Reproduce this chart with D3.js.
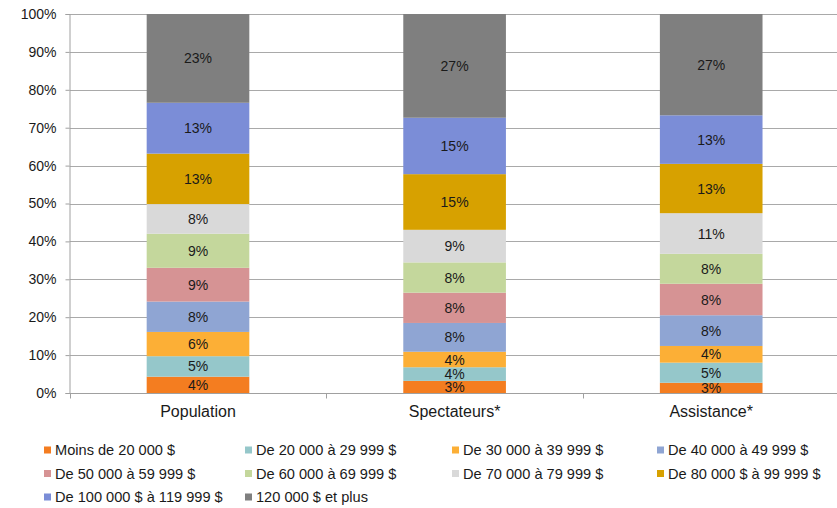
<!DOCTYPE html>
<html lang="fr">
<head>
<meta charset="utf-8">
<script src="https://cdn.jsdelivr.net/npm/d3@7"></script>
<style>
  html, body { margin: 0; padding: 0; background: #fff; }
  svg { display: block; font-family: "Liberation Sans", Arial, sans-serif; }
</style>
</head>
<body>
<svg id="chart" width="837" height="508"></svg>
<script>
// Groupes comparés
const categories = ["Population", "Spectateurs*", "Assistance*"];

// Tranches de revenu du ménage (de bas en haut dans chaque barre)
const incomeBands = [
  "Moins de 20 000 $",
  "De 20 000 à 29 999 $",
  "De 30 000 à 39 999 $",
  "De 40 000 à 49 999 $",
  "De 50 000 à 59 999 $",
  "De 60 000 à 69 999 $",
  "De 70 000 à 79 999 $",
  "De 80 000 $ à 99 999 $",
  "De 100 000 $ à 119 999 $",
  "120 000 $ et plus"
];

// Répartition en % par groupe, dans l'ordre des tranches
const population  = [4.3, 5.4, 6.4, 8.0, 8.9, 9.0, 7.8, 13.3, 13.4, 23.4];
const spectateurs = [3.2, 3.6, 4.1, 7.6, 8.0, 8.0, 8.6, 14.7, 14.9, 27.4];
const assistance  = [2.7, 5.3, 4.4, 8.1, 8.3, 7.9, 10.7, 13.0, 12.8, 26.7];

const yTickValues = [0, 0.1, 0.2, 0.3, 0.4, 0.5, 0.6, 0.7, 0.8, 0.9, 1];

const colors = [
  "#F47D20", "#95C7CA", "#FCAF36", "#8FA5D3", "#D69394",
  "#C4D79C", "#D9D9D9", "#D7A100", "#7B8DD7", "#7F7F7F"
];

const seriesByCategory = [population, spectateurs, assistance];
const rows = categories.map((c, i) => {
  const row = { cat: c };
  incomeBands.forEach((b, j) => { row[b] = seriesByCategory[i][j]; });
  return row;
});

const svg = d3.select("#chart");

const plot = { left: 69.7, right: 839.5, top: 14, bottom: 393 };

const x = d3.scaleBand()
  .domain(categories)
  .range([plot.left, plot.right])
  .paddingInner(0.6)
  .paddingOuter(0.3);

const y = d3.scaleLinear().domain([0, 1]).range([plot.bottom, plot.top]);

const color = d3.scaleOrdinal().domain(incomeBands).range(colors);

const stack = d3.stack().keys(incomeBands).offset(d3.stackOffsetExpand);
const layers = stack(rows);

// Grille horizontale
svg.append("g")
  .selectAll("line")
  .data(yTickValues.slice(1))
  .join("line")
  .attr("x1", plot.left).attr("x2", plot.right)
  .attr("y1", d => Math.round(y(d)) + 0.5)
  .attr("y2", d => Math.round(y(d)) + 0.5)
  .attr("stroke", "#A9A9A9")
  .attr("stroke-width", 1);

// Axe vertical
const yAxis = svg.append("g")
  .attr("transform", `translate(${Math.round(plot.left) - 0.5},0)`)
  .call(d3.axisLeft(y).tickValues(yTickValues).tickFormat(d3.format(".0%")).tickSize(4).tickPadding(9));
yAxis.select(".domain").attr("stroke", "#A0A0A0");
yAxis.selectAll(".tick line").attr("stroke", "#A0A0A0");
yAxis.selectAll(".tick text")
  .attr("font-family", "Liberation Sans, Arial, sans-serif")
  .attr("font-size", 14)
  .attr("fill", "#1a1a1a");

// Barres empilées
const layerG = svg.append("g")
  .selectAll("g")
  .data(layers)
  .join("g")
  .attr("fill", d => color(d.key));

layerG.selectAll("rect")
  .data(d => d)
  .join("rect")
  .attr("x", d => x(d.data.cat))
  .attr("width", x.bandwidth())
  .attr("y", d => y(d[1]))
  .attr("height", d => y(d[0]) - y(d[1]));

// Étiquettes de valeur
const fmt = d3.format(".0%");
svg.append("g")
  .selectAll("g")
  .data(layers)
  .join("g")
  .selectAll("text")
  .data(d => d.map(s => ({ s, key: d.key })))
  .join("text")
  .attr("x", d => x(d.s.data.cat) + x.bandwidth() / 2)
  .attr("y", d => (y(d.s[0]) + y(d.s[1])) / 2)
  .attr("dy", "0.36em")
  .attr("text-anchor", "middle")
  .attr("font-size", 14)
  .attr("fill", "#1a1a1a")
  .text(d => fmt(d.s.data[d.key] / 100));

// Axe horizontal
const xAxisY = Math.round(plot.bottom) + 0.5;
svg.append("line")
  .attr("x1", plot.left).attr("x2", plot.right)
  .attr("y1", xAxisY).attr("y2", xAxisY)
  .attr("stroke", "#A0A0A0");

const step = x.step();
const boundaries = [x(categories[0]) + x.bandwidth() / 2 - step / 2]
  .concat(categories.map(c => x(c) + x.bandwidth() / 2 + step / 2));
svg.append("g")
  .selectAll("line")
  .data(boundaries)
  .join("line")
  .attr("x1", d => Math.round(d) + 0.5).attr("x2", d => Math.round(d) + 0.5)
  .attr("y1", xAxisY).attr("y2", xAxisY + 5)
  .attr("stroke", "#A0A0A0");

svg.append("g")
  .selectAll("text")
  .data(categories)
  .join("text")
  .attr("x", d => x(d) + x.bandwidth() / 2)
  .attr("y", 416.5)
  .attr("text-anchor", "middle")
  .attr("font-size", 16)
  .attr("fill", "#1a1a1a")
  .text(d => d);

// Légende
const legendCols = [44, 245, 452, 657];
const legendRows = [450, 473.5, 497];
const legend = svg.append("g")
  .selectAll("g")
  .data(incomeBands)
  .join("g")
  .attr("transform", (d, i) => `translate(${legendCols[i % 4]},${legendRows[Math.floor(i / 4)]})`);

legend.append("rect")
  .attr("x", 0).attr("y", -3.5)
  .attr("width", 7).attr("height", 7)
  .attr("fill", d => color(d));

legend.append("text")
  .attr("x", 11)
  .attr("y", 0)
  .attr("dy", "0.36em")
  .attr("font-size", 14.6)
  .attr("fill", "#1a1a1a")
  .text(d => d);
</script>
</body>
</html>
